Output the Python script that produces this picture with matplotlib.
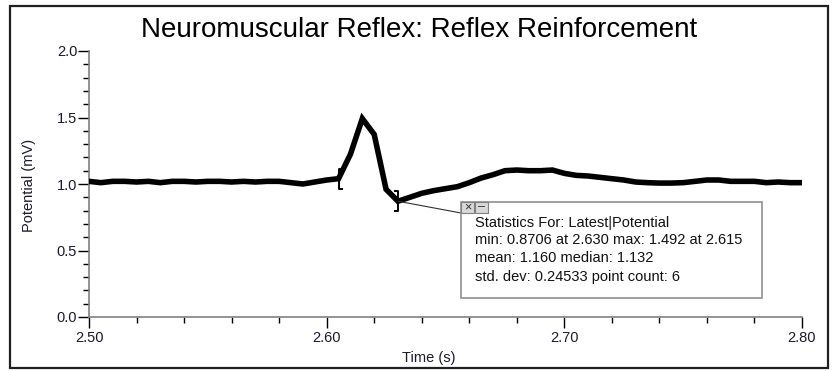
import matplotlib
matplotlib.use('Agg')
import matplotlib.pyplot as plt
import numpy as np
from matplotlib.patches import Rectangle
from matplotlib.path import Path
from matplotlib.ticker import MultipleLocator, FormatStrFormatter

plt.rcParams['font.family'] = ['Liberation Sans', 'DejaVu Sans']

# Sample times (s) and potential (mV)
time = [2.500, 2.505, 2.510, 2.515, 2.520, 2.525, 2.530, 2.535, 2.540, 2.545,
        2.550, 2.555, 2.560, 2.565, 2.570, 2.575, 2.580, 2.585, 2.590, 2.595,
        2.600, 2.605, 2.610, 2.615, 2.620, 2.625, 2.630, 2.635, 2.640, 2.645,
        2.650, 2.655, 2.660, 2.665, 2.670, 2.675, 2.680, 2.685, 2.690, 2.695,
        2.700, 2.705, 2.710, 2.715, 2.720, 2.725, 2.730, 2.735, 2.740, 2.745,
        2.750, 2.755, 2.760, 2.765, 2.770, 2.775, 2.780, 2.785, 2.790, 2.795,
        2.800]
potential = [1.020, 1.010, 1.020, 1.020, 1.015, 1.020, 1.010, 1.020, 1.020, 1.015,
             1.020, 1.020, 1.015, 1.020, 1.015, 1.020, 1.020, 1.010, 1.000, 1.015,
             1.030, 1.040, 1.224, 1.492, 1.373, 0.960, 0.8706, 0.900, 0.930, 0.950,
             0.965, 0.980, 1.010, 1.045, 1.070, 1.100, 1.105, 1.100, 1.100, 1.105,
             1.080, 1.065, 1.060, 1.050, 1.040, 1.030, 1.015, 1.010, 1.007, 1.007,
             1.010, 1.020, 1.030, 1.030, 1.020, 1.020, 1.020, 1.010, 1.015, 1.010,
             1.010]

sel_start, sel_end = 2.605, 2.630

stats_lines = ['Statistics For: Latest|Potential',
               'min: 0.8706 at 2.630 max: 1.492 at 2.615',
               'mean: 1.160 median: 1.132',
               'std. dev: 0.24533 point count: 6']

W, H = 835, 371
fig = plt.figure(figsize=(W / 100, H / 100), dpi=100)
ax = fig.add_axes([89 / W, 1 - 317 / H, (802 - 89) / W, (317 - 51) / H])

t = np.array(time)
v = np.array(potential)
ax.plot(t, v, color='black', lw=4.0, solid_joinstyle='miter', zorder=3)

ax.set_xlim(2.5, 2.8)
ax.set_ylim(0, 2.0)
ax.xaxis.set_major_locator(MultipleLocator(0.1))
ax.xaxis.set_minor_locator(MultipleLocator(0.02))
ax.yaxis.set_major_locator(MultipleLocator(0.5))
ax.yaxis.set_minor_locator(MultipleLocator(0.1))
ax.xaxis.set_major_formatter(FormatStrFormatter('%.2f'))
ax.yaxis.set_major_formatter(FormatStrFormatter('%.1f'))
for s in ['top', 'right']:
    ax.spines[s].set_visible(False)
for s in ['left', 'bottom']:
    ax.spines[s].set_color('#808080')
    ax.spines[s].set_linewidth(1.2)
ax.tick_params(which='major', length=8, width=1, color='black', pad=2,
               labelsize=10.5, labelcolor='#1a1a2a')
ax.tick_params(which='minor', length=4.3, width=1, color='black')
ax.tick_params(axis='y', which='major', pad=0.5)

# selection brackets
left_br = Path([(0.4, -1), (0, -1), (0, 1), (0.4, 1)],
               [Path.MOVETO, Path.LINETO, Path.LINETO, Path.LINETO])
right_br = Path([(-0.4, -1), (0, -1), (0, 1), (-0.4, 1)],
                [Path.MOVETO, Path.LINETO, Path.LINETO, Path.LINETO])
i0 = time.index(sel_start)
i1 = time.index(sel_end)
ax.plot([t[i0]], [v[i0]], marker=left_br, ms=14.5, mfc='none', mec='black',
        mew=1.4, ls='none', zorder=4)
ax.plot([t[i1]], [v[i1]], marker=right_br, ms=14.5, mfc='none', mec='black',
        mew=1.4, ls='none', zorder=4)

# statistics box (pixel coords)
def px(x, y):
    return x / W, 1 - y / H

bx0, by0, bx1, by1 = 461, 202, 762, 298
fig.patches.append(Rectangle(px(bx0, by1), (bx1 - bx0) / W, (by1 - by0) / H,
                             transform=fig.transFigure, fc='white', ec='#909090',
                             lw=1.2, zorder=5))
for k, sym in enumerate(['\u00d7', '\u2013']):
    x0 = 461 + k * 13.5
    fig.patches.append(Rectangle(px(x0, 213), 13 / W, 11 / H,
                                 transform=fig.transFigure, fc='#d8d8d8',
                                 ec='#808080', lw=0.8, zorder=6))
    fig.text(*px(x0 + 6.5, 207.5), sym, ha='center', va='center',
             fontsize=9, color='#303030', zorder=7)
for k, line in enumerate(stats_lines):
    fig.text(*px(475, 222.5 + k * 18), line, ha='left', va='center',
             fontsize=10.5, color='#111111', zorder=7)

# leader line from minimum point to the box
ax.annotate('', xy=px(461, 213), xycoords='figure fraction',
            xytext=(t[i1], v[i1]), textcoords='data',
            arrowprops=dict(arrowstyle='-', color='#303030', lw=0.8,
                            shrinkA=0, shrinkB=0), zorder=4)

fig.text(*px(419, 30), 'Neuromuscular Reflex: Reflex Reinforcement',
         ha='center', va='center', fontsize=20, color='black')
fig.text(*px(429, 358), 'Time (s)', ha='center', va='center', fontsize=10.5,
         color='#1a1a2a')
fig.text(*px(29, 185), 'Potential (mV)', ha='center', va='center',
         rotation=90, fontsize=10.5, color='#1a1a2a')

# outer frame
fig.patches.append(Rectangle(px(10, 368), (828 - 10) / W, (368 - 6) / H,
                             transform=fig.transFigure, fill=False,
                             ec='#202020', lw=1.6))

fig.savefig('out.png', dpi=100)
